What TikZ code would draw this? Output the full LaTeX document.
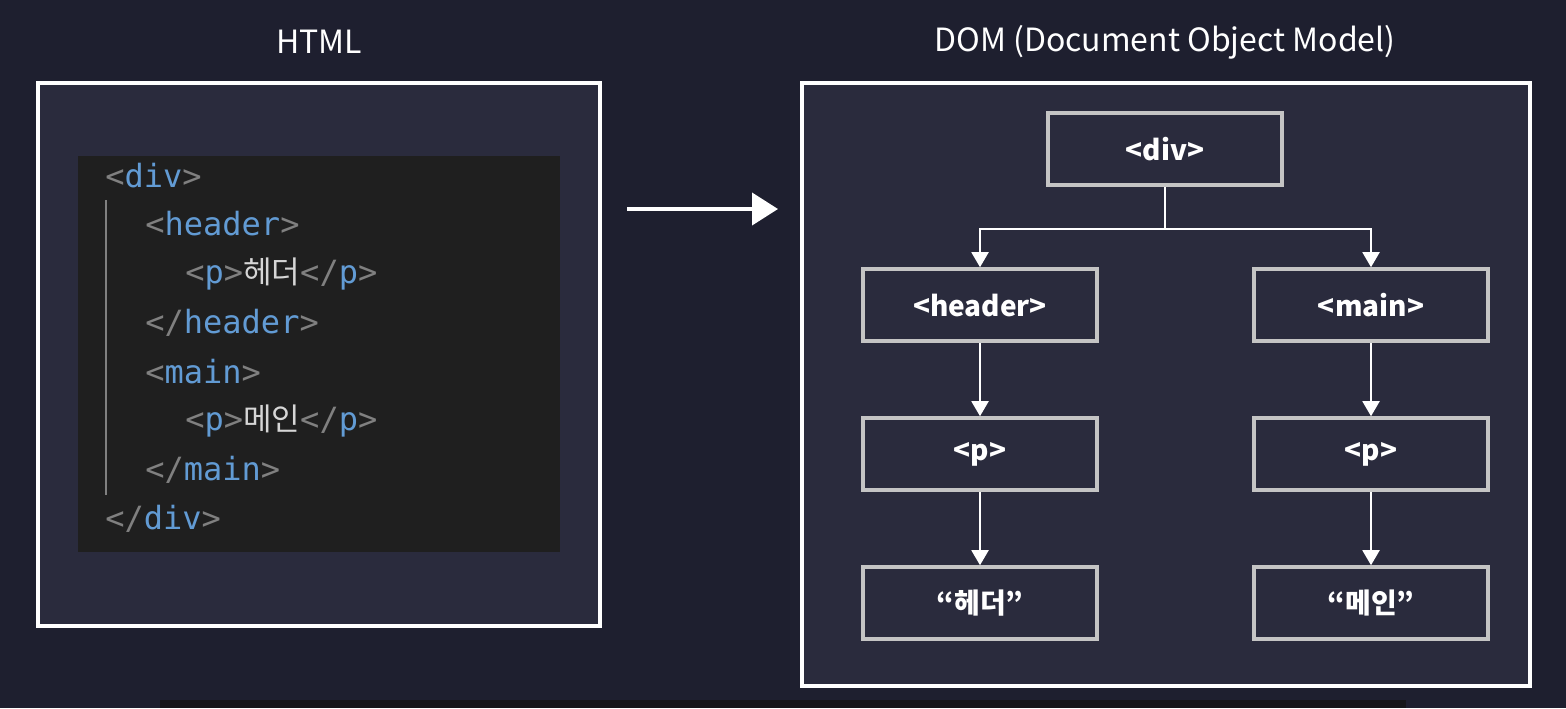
\documentclass[tikz,border=0pt]{standalone}
\usepackage{fontspec}
\usepackage{xcolor}
\usetikzlibrary{arrows.meta}
\setmainfont{Noto Sans CJK KR}
\setmonofont{DejaVu Sans Mono}
\newfontfamily\krfont{Noto Sans CJK KR}

\definecolor{bgnavy}{RGB}{30,31,47}
\definecolor{panelfill}{RGB}{42,43,61}
\definecolor{codefill}{RGB}{31,31,31}
\definecolor{tagblue}{RGB}{98,155,212}
\definecolor{punctgray}{RGB}{128,128,128}
\definecolor{korgray}{RGB}{214,214,214}
\definecolor{boxgray}{RGB}{196,196,196}
\definecolor{stripfill}{RGB}{22,22,26}

\newcommand\ctag[1]{{\color{tagblue}#1}}
\newcommand\cpun[1]{{\color{punctgray}#1}}
\newcommand\ckor[1]{{\color{korgray}\krfont\fontsize{15.5pt}{17pt}\selectfont #1}}

\begin{document}
\begin{tikzpicture}[x=0.5pt, y=-0.5pt,
  codeline/.style={anchor=west, inner sep=0pt, font=\ttfamily\fontsize{16pt}{18pt}\selectfont},
  domnode/.style={draw=boxgray, line width=1.8pt, minimum width=117pt, minimum height=36pt,
    text=white, font=\bfseries\fontsize{14pt}{16pt}\selectfont},
  treearrow/.style={draw=white, line width=1pt, -{Triangle[width=8.5pt, length=7.5pt]}},
  title/.style={text=white, font=\fontsize{16pt}{18pt}\selectfont}]
\useasboundingbox (0,0) rectangle (1566,708);
\fill [bgnavy] (0,0) rectangle (1566,708);
\fill [stripfill] (160,700) rectangle (1406,708);

% titles
\node [title] (htmltitle) at (319,42) {HTML};
\node [title] (domtitle) at (1165,42) {DOM (Document Object Model)};

% left panel: code
\draw [white, fill=panelfill, line width=1.6pt] (38,83) rectangle (600,626);
\fill [codefill] (78,156) rectangle (560,552);
\draw [punctgray, line width=1pt] (106,200) -- (106,495);
\node [codeline] (l1) at (105,176) {\cpun{<}\ctag{div}\cpun{>}};
\node [codeline] (l2) at (145,224) {\cpun{<}\ctag{header}\cpun{>}};
\node [codeline] (l3) at (185,274) {\cpun{<}\ctag{p}\cpun{>}\ckor{헤더}\cpun{</}\ctag{p}\cpun{>}};
\node [codeline] (l4) at (145,323) {\cpun{</}\ctag{header}\cpun{>}};
\node [codeline] (l5) at (145,372) {\cpun{<}\ctag{main}\cpun{>}};
\node [codeline] (l6) at (185,421) {\cpun{<}\ctag{p}\cpun{>}\ckor{메인}\cpun{</}\ctag{p}\cpun{>}};
\node [codeline] (l7) at (145,470) {\cpun{</}\ctag{main}\cpun{>}};
\node [codeline] (l8) at (105,519) {\cpun{</}\ctag{div}\cpun{>}};

% middle arrow
\coordinate (convfrom) at (627,209);
\coordinate (convto) at (778,209);
\draw [white, line width=2pt, -{Triangle[width=16pt, length=13pt]}] (convfrom) -- (convto);

% right panel: tree
\draw [white, fill=panelfill, line width=1.6pt] (802,83) rectangle (1530,686);
\node [domnode] (div) at (1165,149) {<div>};
\node [domnode] (header) at (980,305) {<header>};
\node [domnode] (main) at (1371,305) {<main>};
\node [domnode] (hp) at (980,454) {<p>};
\node [domnode] (mp) at (1371,454) {<p>};
\node [domnode] (htext) at (980,603) {“헤더”};
\node [domnode] (mtext) at (1371,603) {“메인”};

\draw [treearrow] (div.south) -- ++(0,42) -| (header.north);
\draw [treearrow] (div.south) -- ++(0,42) -| (main.north);
\draw [treearrow] (header) -- (hp);
\draw [treearrow] (main) -- (mp);
\draw [treearrow] (hp) -- (htext);
\draw [treearrow] (mp) -- (mtext);
\end{tikzpicture}
\end{document}
